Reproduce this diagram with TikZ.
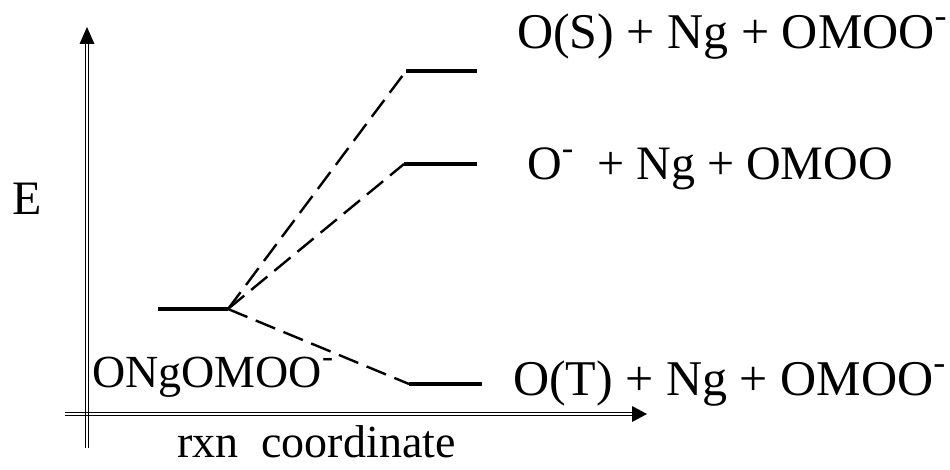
\documentclass[tikz,border=0pt]{standalone}
\usepackage{fontspec}
\usepackage{graphicx}
\setmainfont{Liberation Serif}
\usetikzlibrary{arrows.meta}
\newcommand\supminus{\raisebox{0.42em}{\scalebox{0.72}{-}}}
\begin{document}
\begin{tikzpicture}[x=1pt,y=-1pt,
  axisline/.style={line width=1.3pt,black},
  tiphead/.style={fill=black,draw=none},
  level/.style={line width=4.5pt},
  conn/.style={line width=2.4pt,dash pattern=on 21pt off 9pt},
  lbl/.style={anchor=base west,inner sep=0pt,font=\fontsize{50}{60}\selectfont},
  lblmid/.style={anchor=base west,inner sep=0pt,font=\fontsize{48}{58}\selectfont},
  lblsmall/.style={anchor=base west,inner sep=0pt,font=\fontsize{46}{56}\selectfont}]
\useasboundingbox (0,0) rectangle (950,470);
% axes
\coordinate (vbot) at (87,448);
\coordinate (vtip) at (87,27);
\coordinate (hleft) at (65,414);
\coordinate (htip) at (647,414);
\draw[axisline] ([xshift=-1.7pt]vbot) -- ([xshift=-1.7pt]87,43);
\draw[axisline] ([xshift=1.7pt]vbot) -- ([xshift=1.7pt]87,43);
\fill[tiphead] (vtip) -- (79.5,44) -- (94.5,44) -- cycle;
\draw[axisline] ([yshift=-1.7pt]hleft) -- ([yshift=-1.7pt]633,414);
\draw[axisline] ([yshift=1.7pt]hleft) -- ([yshift=1.7pt]633,414);
\fill[tiphead] (htip) -- (632,406) -- (632,422) -- cycle;
% levels
\coordinate (rA) at (158,309);
\coordinate (rB) at (228,309);
\coordinate (sA) at (406,71);
\coordinate (sB) at (477,71);
\coordinate (mA) at (404,164);
\coordinate (mB) at (477,164);
\coordinate (tA) at (409,384);
\coordinate (tB) at (482,384);
\draw[level] (rA) -- (rB);
\draw[level] (sA) -- (sB);
\draw[level] (mA) -- (mB);
\draw[level] (tA) -- (tB);
\draw[conn] (rB) -- (sA);
\draw[conn] (rB) -- (mA);
\draw[conn] (rB) -- (tA);
% labels
\node[lbl] (ls) at (517,49) {O(S) + Ng + OMOO\supminus};
\node[lblmid] (lm) at (527,180) {O\supminus\ \ + Ng + OMOO};
\node[lbl] (lt) at (513,395) {O(T) + Ng + OMOO\supminus};
\node[anchor=base west,inner sep=0pt,font=\fontsize{48}{58}\selectfont] (le) at (12,215) {E};
\node[lblsmall] (lr) at (92,387) {ONgOMOO\supminus};
\node[lblsmall] (lx) at (177,457) {rxn\ \ coordinate};
\end{tikzpicture}
\end{document}
